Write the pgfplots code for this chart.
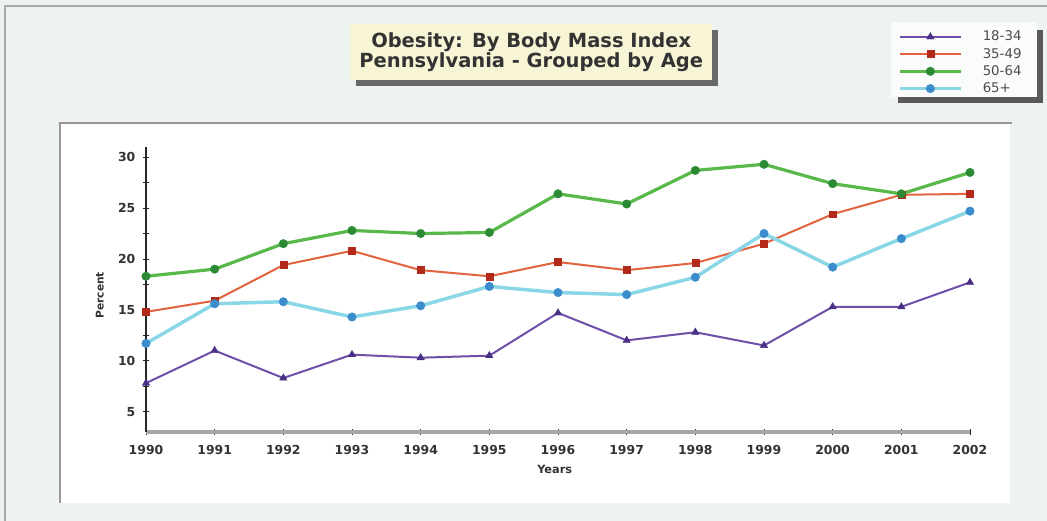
\documentclass[border=0pt]{standalone}
\usepackage{fontspec}
\setmainfont{DejaVu Sans}
\usepackage{pgfplots}
\pgfplotsset{compat=1.18}
\usetikzlibrary{shadows}
\definecolor{bgc}{HTML}{EDF3EF}
\definecolor{framec}{HTML}{9A9494}
\definecolor{titlebg}{HTML}{F7F5D6}
\definecolor{purpleL}{HTML}{6E50A8}
\definecolor{purpleM}{HTML}{4A2F86}
\definecolor{redL}{HTML}{E2643E}
\definecolor{redM}{HTML}{B42A1A}
\definecolor{greenL}{HTML}{58B84A}
\definecolor{greenM}{HTML}{2C8A34}
\definecolor{cyanL}{HTML}{88D6E6}
\definecolor{cyanM}{HTML}{3A8CCC}
\definecolor{txt}{HTML}{333333}

\pgfplotstableread{
year a b c d
1990 7.8 14.8 18.3 11.7
1991 11.0 15.9 19.0 15.6
1992 8.3 19.4 21.5 15.8
1993 10.6 20.8 22.8 14.3
1994 10.3 18.9 22.5 15.4
1995 10.5 18.3 22.6 17.3
1996 14.7 19.7 26.4 16.7
1997 12.0 18.9 25.4 16.5
1998 12.8 19.6 28.7 18.2
1999 11.5 21.5 29.3 22.5
2000 15.3 24.4 27.4 19.2
2001 15.3 26.3 26.4 22.0
2002 17.7 26.4 28.5 24.7
}\datatable

\begin{document}
\begin{tikzpicture}[x=0.75pt,y=0.75pt]
\fill[bgc] (0,0) rectangle (1047,521);
\draw[framec!80, line width=1.2pt] (5,0) -- (5,515) -- (1047,515);
\fill[white] (60,18) rectangle (1010,398);
\draw[framec, line width=2.2pt] (60,18) -- (60,398) -- (1012,398);
% legend box with shadow
\fill[black!65] (898,418) rectangle (1043,491);
\fill[white!75!bgc] (891,424) rectangle (1037,499);

\begin{axis}[
  at={(109.5pt,66.75pt)}, anchor=south west,
  scale only axis, width=618pt, height=213.75pt,
  xmin=1990, xmax=2002, ymin=3, ymax=31,
  axis x line=bottom, axis y line=left,
  x axis line style={-, line width=2.6pt, color=framec!85},
  y axis line style={-, line width=1pt, color=black!85},
  xtick={1990,...,2002}, ytick={5,10,...,30},
  minor x tick num=1, minor y tick num=1,
  tick align=center, major tick length=5pt, minor tick length=5pt,
  tick style={black!85, line width=0.6pt},
  ticklabel style={font=\bfseries\fontsize{9.3}{10}\selectfont, text=txt, /pgf/number format/assume math mode=true},
  xticklabel style={/pgf/number format/1000 sep={}, yshift=-4pt},
  yticklabel style={xshift=-2pt},
  xlabel={Years}, ylabel={Percent},
  xlabel style={font=\bfseries\fontsize{8.5}{9}\selectfont, text=txt, at={(axis description cs:0.496,-0.133)}, anchor=center},
  ylabel style={font=\bfseries\fontsize{8}{9}\selectfont, text=txt, at={(axis description cs:-0.056,0.48)}, anchor=center, rotate=0},
  title={Obesity: By Body Mass Index\\Pennsylvania - Grouped by Age},
  title style={at={(axis description cs:0.4675,1.326)}, anchor=center, yshift=-4.5pt, align=center,
    font=\bfseries\fontsize{14.6}{14}\selectfont, text=txt, fill=titlebg,
    inner xsep=7pt, inner ysep=6pt,
    drop shadow={shadow xshift=4.5pt, shadow yshift=-4.5pt, fill=black!65, opacity=0.9}},
  legend style={at={(axis description cs:0.909,1.425)}, anchor=north west,
    fill=none, draw=none, font=\fontsize{10}{11}\selectfont, text=black!70,
    row sep=0.8pt, inner sep=2pt, nodes={inner ysep=1.6pt},
    /tikz/every odd column/.append style={column sep=13pt}},
  legend cell align=left,
  legend image code/.code={
    \draw[mark repeat=2,mark phase=2,#1] plot coordinates {(0pt,0pt) (23pt,0pt) (46pt,0pt)};
  },
  clip=false,
]
\addplot[purpleL, line width=1.5pt, mark=triangle*, mark size=3.2pt, mark options={fill=purpleM, draw=purpleM, line width=0.3pt}] table[x=year,y=a]{\datatable};
\addlegendentry{18-34}
\addplot[redL, line width=1.5pt, mark=square*, mark size=2.6pt, mark options={fill=redM, draw=redM, line width=0.3pt}] table[x=year,y=b]{\datatable};
\addlegendentry{35-49}
\addplot[greenL, line width=2.4pt, mark=*, mark size=3.2pt, mark options={fill=greenM, draw=greenM, line width=0.3pt}] table[x=year,y=c]{\datatable};
\addlegendentry{50-64}
\addplot[cyanL, line width=2.6pt, mark=*, mark size=3.2pt, mark options={fill=cyanM, draw=cyanM, line width=0.3pt}] table[x=year,y=d]{\datatable};
\addlegendentry{65+}
\end{axis}
\pgfresetboundingbox
\useasboundingbox (0,0) rectangle (1047,521);
\end{tikzpicture}
\end{document}
